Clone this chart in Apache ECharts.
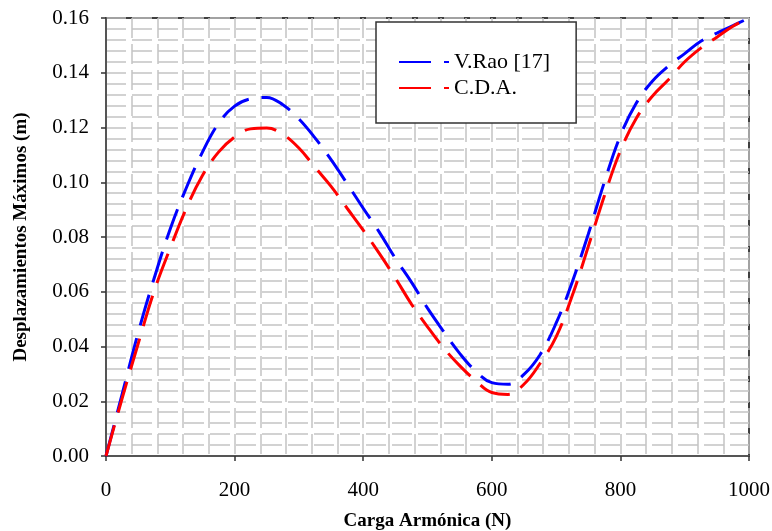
<!DOCTYPE html>
<html>
<head>
<meta charset="utf-8">
<script src="https://cdn.jsdelivr.net/npm/echarts@6/dist/echarts.min.js"></script>
<style>
  html, body { margin: 0; padding: 0; background: #fff; }
  #chart { width: 772px; height: 531px; }
</style>
</head>
<body>
<div id="chart"></div>
<script>
var chart = echarts.init(document.getElementById('chart'));

// carga armónica (N)
var loads = [0, 25, 50, 75, 100, 125, 150, 175, 200, 225, 250, 275, 300, 325, 350, 375, 400, 425, 450, 475, 500,
             525, 550, 575, 600, 625, 650, 675, 700, 725, 750, 775, 800, 825, 850, 875, 900, 925, 950, 975, 1000];

// V.Rao [17]
var raoDisp = [0, 0.0225, 0.045, 0.065, 0.083, 0.098, 0.111, 0.1215, 0.1278, 0.1305, 0.131, 0.1283, 0.1231, 0.1162,
               0.1083, 0.0995, 0.0905, 0.0818, 0.0722, 0.0635, 0.054, 0.0455, 0.0375, 0.031, 0.0268, 0.0262, 0.0298,
               0.037, 0.0485, 0.0635, 0.081, 0.100, 0.117, 0.129, 0.137, 0.1425, 0.147, 0.1515, 0.1545, 0.1572, 0.160];

// C.D.A.
var cdaDisp = [0, 0.021, 0.041, 0.0603, 0.076, 0.0905, 0.1025, 0.111, 0.1165, 0.1195, 0.1198, 0.1175, 0.1125, 0.1055,
               0.0985, 0.0905, 0.0825, 0.074, 0.065, 0.0555, 0.0472, 0.0395, 0.033, 0.0275, 0.0232, 0.0225, 0.0262,
               0.0338, 0.0435, 0.0585, 0.0765, 0.095, 0.1115, 0.1235, 0.1315, 0.1375, 0.144, 0.149, 0.153, 0.157, 0.160];

var seriesNames = ['V.Rao [17]', 'C.D.A.'];
var xTitle = 'Carga Armónica (N)';
var yTitle = 'Desplazamientos Máximos (m)';

var pairs = function (xs, ys) {
    var res = [];
    for (var i = 0; i < xs.length; i++) res.push([xs[i], ys[i]]);
    return res;
};

var serif = 'Liberation Serif';
var gridLine = { color: '#c4c4c4', width: 1.5, type: [20, 6] };

var option = {
    animation: false,
    backgroundColor: '#fff',
    grid: {
        left: 106, right: 23, top: 18, bottom: 75,
        outerBoundsMode: 'none',
        show: true, borderColor: '#000', borderWidth: 1.5, backgroundColor: 'transparent'
    },
    legend: {
        orient: 'vertical',
        left: 376, top: 22,
        backgroundColor: '#fff',
        borderColor: '#333', borderWidth: 1.5,
        padding: [27, 26, 22, 22],
        itemWidth: 50, itemHeight: 14, itemGap: 0,
        itemStyle: { opacity: 0 },
        textStyle: { fontFamily: serif, fontSize: 22, color: '#000', lineHeight: 26 },
        data: seriesNames
    },
    xAxis: {
        type: 'value', min: 0, max: 1000, interval: 200,
        name: xTitle, nameLocation: 'middle', nameGap: 56,
        nameTextStyle: { fontFamily: serif, fontSize: 19, fontWeight: 'bold', color: '#000' },
        axisLine: { show: true, lineStyle: { color: '#555', width: 2 } },
        axisTick: { show: true, length: 5, lineStyle: { color: '#333', width: 1.5 } },
        axisLabel: {
            fontFamily: serif, fontSize: 21, color: '#000', margin: 24,
            formatter: function (v) { return String(v); }
        },
        splitLine: { show: true, lineStyle: gridLine },
        minorTick: { show: false, splitNumber: 5 },
        minorSplitLine: { show: true, lineStyle: gridLine }
    },
    yAxis: {
        type: 'value', min: 0, max: 0.16, interval: 0.02,
        name: yTitle, nameLocation: 'middle', nameGap: 75,
        nameTextStyle: { fontFamily: serif, fontSize: 19, fontWeight: 'bold', color: '#000' },
        axisLine: { show: true, lineStyle: { color: '#555', width: 2 } },
        axisTick: { show: true, length: 5, lineStyle: { color: '#333', width: 1.5 } },
        axisLabel: {
            fontFamily: serif, fontSize: 21, color: '#000', margin: 17,
            formatter: function (v) { return v.toFixed(2); }
        },
        splitLine: { show: true, lineStyle: gridLine },
        minorTick: { show: false, splitNumber: 5 },
        minorSplitLine: { show: true, lineStyle: gridLine }
    },
    series: [
        {
            name: seriesNames[0], type: 'line', smooth: 0.4, symbol: 'none',
            lineStyle: { color: '#0000ff', width: 3, type: [32, 13] },
            itemStyle: { color: '#0000ff' },
            data: pairs(loads, raoDisp)
        },
        {
            name: seriesNames[1], type: 'line', smooth: 0.4, symbol: 'none',
            lineStyle: { color: '#ff0000', width: 3, type: [32, 13] },
            itemStyle: { color: '#ff0000' },
            data: pairs(loads, cdaDisp)
        }
    ]
};

chart.setOption(option);
</script>
</body>
</html>
